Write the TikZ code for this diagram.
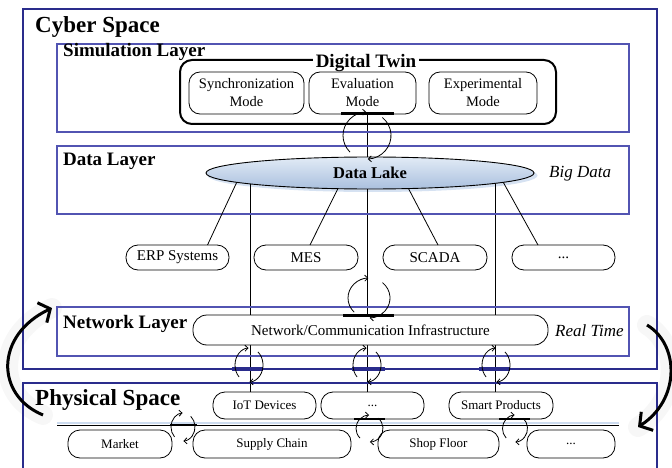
\documentclass[tikz,border=0pt]{standalone}
\usepackage{fontspec}
\setmainfont{Liberation Serif}
\usetikzlibrary{shapes.geometric,arrows.meta,calc,backgrounds}
\definecolor{navy}{RGB}{42,44,140}
\definecolor{layerblue}{RGB}{82,84,178}
\definecolor{laketop}{RGB}{226,235,246}
\definecolor{lakebot}{RGB}{170,192,222}
\definecolor{glow}{RGB}{214,226,242}
\definecolor{lineglow}{RGB}{205,220,240}
\tikzset{
 outerbox/.style={draw=navy, line width=2pt, inner sep=0, outer sep=0, anchor=north west},
 layerbox/.style={draw=layerblue, line width=1.1pt, inner sep=0, outer sep=0, anchor=north west},
 dtbox/.style={draw=black, line width=2pt, rounded corners=12pt, inner sep=0, outer sep=0, anchor=north west},
 dttitle/.style={fill=white, inner xsep=3pt, inner ysep=4pt, anchor=base, font=\fontsize{19}{22}\selectfont\bfseries},
 modebox/.style={draw=black, line width=0.8pt, rounded corners=11pt, align=center, inner sep=0, outer sep=0, minimum height=42pt, font=\fontsize{14.5}{18}\selectfont},
 pill/.style={draw=black, line width=0.8pt, rounded corners=12pt, fill=white, inner sep=0, outer sep=0, minimum height=25pt, font=\fontsize{15}{18}\selectfont},
 ppill/.style={pill, minimum height=27pt, font=\fontsize{13}{16}\selectfont},
 bigtitle/.style={inner sep=0, anchor=base west, font=\fontsize{23}{27}\selectfont\bfseries},
 layertitle/.style={inner sep=0, anchor=base west, font=\fontsize{19}{22}\selectfont\bfseries},
 note/.style={inner sep=0, anchor=base west, font=\fontsize{17}{20}\selectfont\itshape},
 lake/.style={ellipse, draw=black, line width=0.9pt, top color=laketop, bottom color=lakebot, inner sep=0, outer sep=0, font=\fontsize{16.5}{19}\selectfont\bfseries},
 conn/.style={draw=black, line width=0.8pt},
 cycline/.style={draw=black, line width=0.8pt, -{Straight Barb[length=3pt,width=6pt]}},
 bbar/.style={draw=black, line width=2.2pt},
 bluebar/.style={draw=navy, line width=4pt},
 bigarrow/.style={draw=black, line width=3pt, -{Straight Barb[length=9pt,width=22pt]}},
 arrowglow/.style={draw=black!3, line width=20pt, line cap=round},
}
\newcommand\refreshsym[4]{%
 \begin{scope}[shift={(#1,#2)},yscale=-1]
  \draw[cycline] (225:#3 and #4) arc[start angle=225,end angle=92,x radius=#3,y radius=#4];
  \draw[cycline] (50:#3 and #4) arc[start angle=50,end angle=-88,x radius=#3,y radius=#4];
 \end{scope}}
\begin{document}
\begin{tikzpicture}[x=1pt,y=-1pt]
\useasboundingbox (0,0) rectangle (672,468);

% glow of the big arrows
\coordinate (la0) at (43,415);
\coordinate (la1) at (52,308);
\coordinate (ra0) at (647,325);
\coordinate (ra1) at (638,427);
\draw[arrowglow] (la0) .. controls (-5,395) and (-5,335) .. (la1);
\draw[arrowglow] (ra0) .. controls (680,345) and (680,400) .. (ra1);

% spaces and layers
\node[outerbox, minimum width=634pt, minimum height=360pt] (cyber) at (23,9) {};
\node[outerbox, minimum width=634pt, minimum height=120pt] (phys) at (23,383) {};
\node[layerbox, minimum width=572pt, minimum height=88pt] (simlayer) at (57,44) {};
\node[layerbox, minimum width=572pt, minimum height=68pt] (datalayer) at (57,146) {};
\node[layerbox, minimum width=572pt, minimum height=49pt] (netlayer) at (57,307) {};

\node[bigtitle] (cyberlbl) at (35,33) {Cyber Space};
\node[bigtitle] (physlbl) at (35,405) {Physical Space};
\node[layertitle] (simlbl) at (63,57) {Simulation Layer};
\node[layertitle] (datalbl) at (63,165) {Data Layer};
\node[layertitle] (netlbl) at (63,328) {Network Layer};
\node[note] (bigdata) at (549,177) {Big Data};
\node[note] (realtime) at (555,336) {Real Time};

% digital twin
\node[dtbox, minimum width=376pt, minimum height=64pt] (dt) at (180,60) {};
\node[dttitle] (dtt) at (366,68) {Digital Twin};
\node[modebox, minimum width=115pt] (sync) at (246.5,93) {Synchronization\\Mode};
\node[modebox, minimum width=107pt] (eval) at (362.5,93) {Evaluation\\Mode};
\node[modebox, minimum width=108pt] (exper) at (483,93) {Experimental\\Mode};

% data lake
\node[lake, minimum width=328pt, minimum height=32pt] (lake) at (370,173) {Data Lake};

% middle systems
\node[pill, minimum width=103pt] (erp) at (177.5,257.5) {ERP Systems};
\node[pill, minimum width=104pt] (mes) at (306,257.5) {MES};
\node[pill, minimum width=104pt] (scada) at (435,257.5) {SCADA};
\node[pill, minimum width=103pt] (mdots) at (563.5,257.5) {...};

% network
\node[pill, minimum width=355pt, minimum height=30pt, rounded corners=14pt] (infra) at (370.5,330) {Network/Communication Infrastructure};

% physical
\node[ppill, minimum width=103pt] (iot) at (264.5,405.5) {IoT Devices};
\node[ppill, minimum width=103pt] (pdots) at (372.5,405.5) {...};
\node[ppill, minimum width=104pt] (smart) at (501,405.5) {Smart Products};
\node[ppill, minimum width=104pt, minimum height=28pt] (market) at (120,444) {Market};
\node[ppill, minimum width=158pt, minimum height=28pt] (supply) at (272,444) {Supply Chain};
\node[ppill, minimum width=121pt, minimum height=28pt] (shop) at (438.5,444) {Shop Floor};
\node[ppill, minimum width=88pt, minimum height=28pt] (bdots) at (571,444) {...};

% vertical links (behind the boxes)
\coordinate (v1) at (250,0);
\coordinate (v2) at (367,0);
\coordinate (v3) at (495,0);
\begin{pgfonlayer}{background}
 \fill[glow] (372.5,175.5) ellipse[x radius=165, y radius=16.5];
 \draw[conn] (v1 |- lake.center) -- (v1 |- iot.north);
 \draw[conn] (v2 |- eval.south) -- (v2 |- pdots.north);
 \draw[conn] (v3 |- lake.center) -- (v3 |- smart.north);
\end{pgfonlayer}

% slanted links from the data lake
\draw[conn] (lake.184) -- ([xshift=30pt]erp.north);
\draw[conn] (lake.206) -- ([xshift=4pt]mes.north);
\draw[conn] (lake.338) -- ([xshift=3pt]scada.north);
\draw[conn] (lake.356) -- ([xshift=-25.5pt]mdots.north);

% separator in the physical space
\coordinate (hl0) at (57,425);
\coordinate (hl1) at (619,425);
\draw[draw=lineglow, line width=1.2pt] ([yshift=2pt]hl0) -- ([yshift=2pt]hl1);
\draw[conn] (hl0) -- (hl1);

% highlighted crossings
\draw[bbar] (341,113.5) -- (394,113.5);
\draw[bbar] (343,315.5) -- (394,315.5);
\draw[bluebar] (232,369) -- (263,369);
\draw[bluebar] (352,369) -- (385,369);
\draw[bluebar] (479,369) -- (510,369);
\draw[bbar] (354,419) -- (385,419);
\draw[bbar] (499,419) -- (530,419);
\draw[draw=black, line width=1.6pt] (170,425) -- (197,425);

% cycle symbols
\refreshsym{367}{135.5}{24}{23.5}
\refreshsym{369}{298}{21}{20}
\refreshsym{249}{365}{14}{17}
\refreshsym{367}{365}{14}{17}
\refreshsym{496}{365}{14}{17}
\refreshsym{183}{427}{12}{14}
\refreshsym{369.5}{428.5}{13.5}{13.5}
\refreshsym{515}{428.5}{12.5}{13.5}

% big curved arrows
\draw[bigarrow] (la0) .. controls (-5,395) and (-5,335) .. (la1);
\draw[bigarrow] (ra0) .. controls (680,345) and (680,400) .. (ra1);
\end{tikzpicture}
\end{document}
